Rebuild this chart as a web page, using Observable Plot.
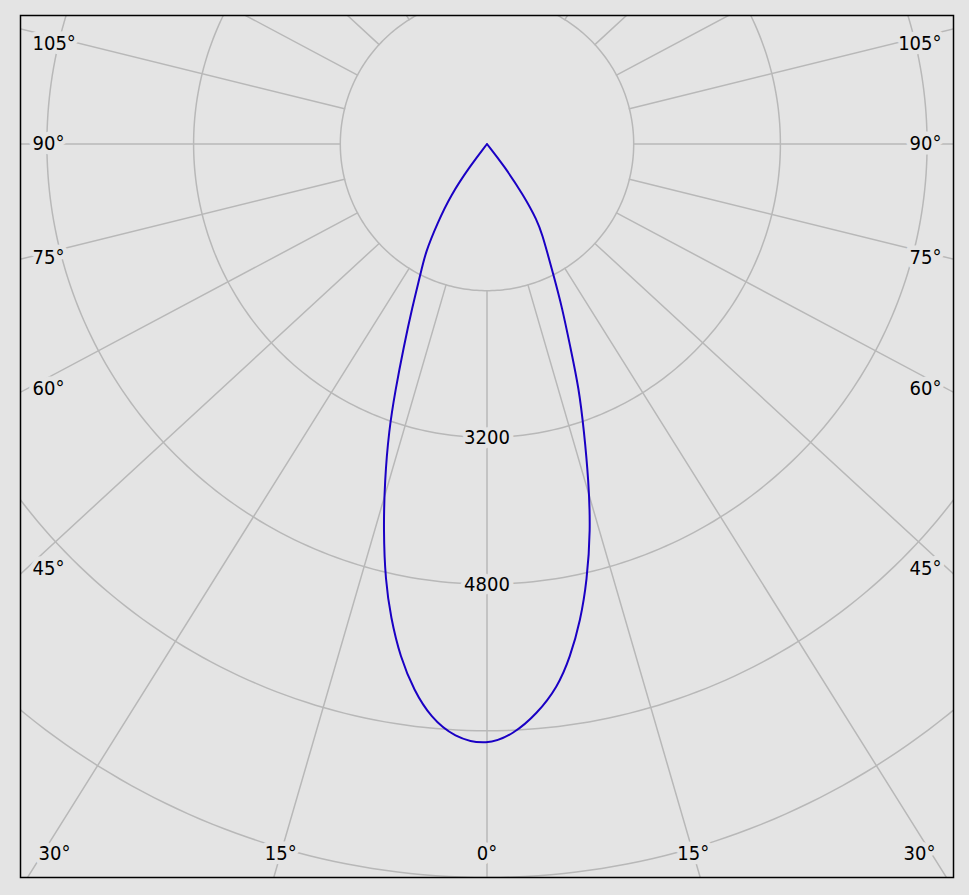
<!DOCTYPE html>
<html><head><meta charset="utf-8">
<script src="https://cdn.jsdelivr.net/npm/d3@7"></script>
<script src="https://cdn.jsdelivr.net/npm/@observablehq/plot@0.6"></script>
<style>html,body{margin:0;padding:0;background:#e4e4e4;} #chart svg{display:block}</style>
</head><body><div id="chart"></div>
<script>
// ---- data ----
const anglesLeft     = [0, 3.2, 5.6, 7.6, 9.6, 11.5, 13.1, 15.0, 16.9, 18.9, 20.4, 22.3, 24.6, 27.1, 29.6, 32.0, 35.3, 37.5, 39.5];
const intensityLeft  = [6561, 6480, 6282, 6014, 5676, 5267, 4888, 4363, 3837, 3304, 2868, 2395, 1958, 1590, 1358, 1026, 688, 296, 0];
const anglesRight    = [0, 2.6, 5.0, 7.4, 9.2, 11.1, 12.9, 15.0, 16.8, 18.7, 20.6, 22.3, 24.7, 27.0, 29.1, 31.2, 33.3, 35.5, 38.0, 39.5];
const intensityRight = [6561, 6440, 6239, 5974, 5671, 5296, 4885, 4364, 3835, 3298, 2851, 2396, 1960, 1589, 1350, 1170, 998, 690, 298, 0];
const ringValues = [1600, 3200, 4800, 6400, 8000];
const ringLabels = [3200, 4800];
const spokeAngles = [0, 15, 30, 45, 60, 75, 90, 105, 120, 135, 150, 165, 180];
const bottomLabelAngles = [0, 15, 30];
const sideLabelAngles = [45, 60, 75, 90, 105];

// ---- layout ----
const W = 969, H = 895;
const mL = 20, mR = 16, mT = 15, mB = 18;
const xDomain = [-5088, 5088];
const k = (W - mL - mR) / (xDomain[1] - xDomain[0]); // px per cd
const yDomain = [8000 - (H - mT - mB) / k, 8000];
const BG = "#e4e4e4";
const GRID = "#b8b8b8";
const FONT = "'DejaVu Sans Condensed', 'DejaVu Sans', Verdana, sans-serif";
const SKEW = 1.085; // angular stretch of the spokes as drawn in the original

const rad = d => d * Math.PI / 180;
function spokeDir(t) {
  const s = SKEW * Math.sin(rad(t)), c = Math.cos(rad(t));
  const n = Math.hypot(s, c);
  return [s / n, c / n];
}

// curve: one line from the left cusp, through 0°, to the right cusp
const leftPts = anglesLeft.map((a, i) => ({x: -intensityLeft[i] * Math.sin(rad(a)), y: intensityLeft[i] * Math.cos(rad(a))})).reverse();
const rightPts = anglesRight.slice(1).map((a, i) => ({x: intensityRight[i + 1] * Math.sin(rad(a)), y: intensityRight[i + 1] * Math.cos(rad(a))}));
const curve = [...leftPts, ...rightPts];

// rings
const rings = ringValues.flatMap(r => d3.range(0, 361, 1).map(a => ({r, x: r * Math.sin(rad(a)), y: r * Math.cos(rad(a))})));

// spokes
const spokes = [];
spokeAngles.forEach(t => [-1, 1].forEach(side => {
  if ((t === 0 || t === 180) && side === 1) return;
  const [s, c] = spokeDir(t);
  const id = t + "_" + side;
  spokes.push({id, x: side * s * ringValues[0], y: c * ringValues[0]});
  spokes.push({id, x: side * s * 20000, y: c * 20000});
}));

// labels
const xMin = xDomain[0], xMax = xDomain[1], yTop = yDomain[0], yBot = yDomain[1];
const bottomY = yBot - 24 / k;
const bottomLabels = [];
bottomLabelAngles.forEach(t => [-1, 1].forEach(side => {
  if (t === 0 && side === 1) return;
  const [s, c] = spokeDir(t);
  let x = side * s * bottomY / c;
  x = Math.max(xMin + 34 / k, Math.min(xMax - 34 / k, x));
  bottomLabels.push({x, y: bottomY, text: t + "°"});
}));
const sideLabel = side => sideLabelAngles.map(t => {
  const [s, c] = spokeDir(t);
  const xr = (xMax - 6 / k);
  let y = c / s * xr;
  y = Math.max(yTop + 28 / k, Math.min(bottomY, y));
  return {x: side < 0 ? xMin + 12 / k : xMax - 12 / k, y, text: t + "°"};
});
const leftLabels = sideLabel(-1), rightLabels = sideLabel(1);
const ringLabelData = ringLabels.map(v => ({x: 0, y: v, text: String(v)}));

const textOpts = {x: "x", y: "y", text: "text", fontSize: 20, fontFamily: FONT, fill: "#000",
  stroke: BG, strokeWidth: 9, paintOrder: "stroke", strokeLinejoin: "round"};

const plot = Plot.plot({
  width: W, height: H,
  marginLeft: mL, marginRight: mR, marginTop: mT, marginBottom: mB,
  x: {domain: xDomain, axis: null},
  y: {domain: yDomain, reverse: true, axis: null},
  style: {background: BG},
  marks: [
    Plot.line(rings, {x: "x", y: "y", z: "r", stroke: GRID, strokeWidth: 1.5, clip: true}),
    Plot.line(spokes, {x: "x", y: "y", z: "id", stroke: GRID, strokeWidth: 1.5, clip: true}),
    Plot.line(curve, {x: "x", y: "y", stroke: "#1a00c4", strokeWidth: 2, curve: "basis", clip: true}),
    Plot.text(ringLabelData, {...textOpts, textAnchor: "middle"}),
    Plot.text(bottomLabels, {...textOpts, textAnchor: "middle"}),
    Plot.text(leftLabels, {...textOpts, textAnchor: "start"}),
    Plot.text(rightLabels, {...textOpts, textAnchor: "end"}),
    Plot.frame({stroke: "black", strokeWidth: 1.5})
  ]
});
document.getElementById("chart").append(plot);
</script>
</body></html>
